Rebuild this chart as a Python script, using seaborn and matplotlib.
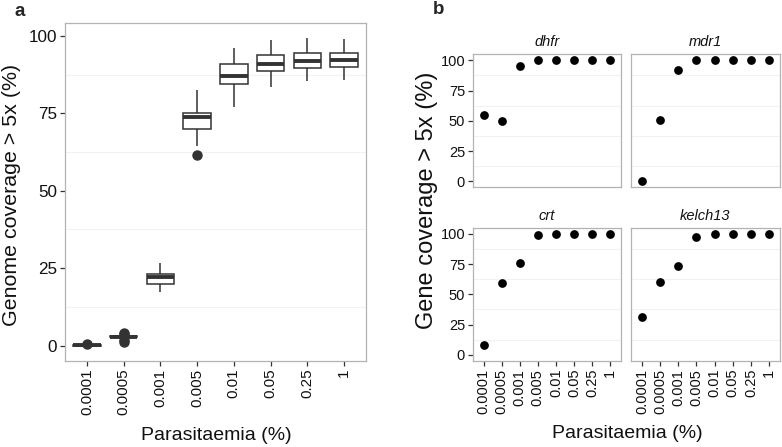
import numpy as np
import pandas as pd
import matplotlib
matplotlib.use("Agg")
from matplotlib import pyplot as plt
from matplotlib.ticker import MultipleLocator
import seaborn as sns

# parasitaemia levels (%)
parasitaemia = ["0.0001", "0.0005", "0.001", "0.005", "0.01", "0.05", "0.25", "1"]

# genome coverage > 5x (%) per replicate, panel a
genome_cov = [
    [0.0, 0.0, 0.0, 0.0, 0.1, 0.1, 0.1, 0.1, 0.4],
    [1.3, 1.7, 2.6, 2.7, 2.8, 2.9, 3.0, 3.8, 4.1],
    [17.2, 18.5, 19.9, 21.5, 22.3, 22.8, 23.1, 25.0, 26.8],
    [61.5, 64.5, 69.9, 72.0, 73.7, 74.4, 75.0, 78.0, 82.4],
    [77.1, 82.0, 84.6, 86.0, 87.1, 89.0, 90.9, 93.0, 96.1],
    [83.5, 86.5, 88.8, 90.0, 91.1, 92.5, 93.8, 96.0, 98.8],
    [85.5, 88.0, 89.8, 91.0, 91.9, 93.2, 94.5, 97.0, 99.2],
    [85.9, 88.5, 90.1, 91.2, 92.2, 93.4, 94.6, 97.0, 99.1],
]

# gene coverage > 5x (%), panel b
genes = ["dhfr", "mdr1", "crt", "kelch13"]
dhfr = [55, 50, 95, 100, 100, 100, 100, 100]
mdr1 = [0, 51, 92, 100, 100, 100, 100, 100]
crt = [8, 59, 76, 99, 100, 100, 100, 100]
kelch13 = [31, 60, 73, 97, 100, 100, 100, 100]
gene_cov = [dhfr, mdr1, crt, kelch13]

sns.set_style("white")
plt.rcParams["font.family"] = ["Liberation Sans", "DejaVu Sans"]

W, H = 782, 447
fig = plt.figure(figsize=(W / 100, H / 100), dpi=100)


def px_axes(x0, y0, x1, y1):
    return fig.add_axes([x0 / W, 1 - y1 / H, (x1 - x0) / W, (y1 - y0) / H])


def style(ax, fs):
    for s in ax.spines.values():
        s.set_color("#b3b3b3")
        s.set_linewidth(0.9)
    ax.yaxis.set_major_locator(MultipleLocator(25))
    ax.yaxis.set_minor_locator(MultipleLocator(12.5))
    ax.grid(False)
    ax.grid(which="minor", axis="y", color="#f2f2f2", lw=0.8)
    ax.set_axisbelow(True)
    ax.tick_params(axis="both", which="major", direction="out", length=3.5,
                   width=0.9, color="#333333", labelsize=fs, labelcolor="#111111",
                   bottom=True, left=True, pad=2)
    ax.tick_params(axis="y", which="minor", length=0)
    ax.tick_params(axis="x", labelrotation=90)
    ax.set_xlim(-0.6, 7.6)
    ax.set_xlabel("")
    ax.set_ylabel("")


# panel a
df_a = pd.DataFrame({
    "parasitaemia": np.repeat(parasitaemia, [len(v) for v in genome_cov]),
    "coverage": np.concatenate(genome_cov),
})
ax_a = px_axes(65, 23, 366, 361)
sns.boxplot(data=df_a, x="parasitaemia", y="coverage", order=parasitaemia, ax=ax_a,
            width=0.75, color="white", linecolor="#333333", linewidth=1.1,
            showcaps=False,
            medianprops=dict(linewidth=2.8, color="#333333"),
            flierprops=dict(marker="o", markersize=6.5, markerfacecolor="#333333",
                            markeredgecolor="#333333"))
style(ax_a, 12.3)
ax_a.tick_params(axis="x", labelsize=11)
ax_a.set_ylim(-5, 104.2)

# panel b
boxes = [(472.7, 54.3, 621, 187.3), (631, 54.3, 780, 187.3),
         (472.7, 227.7, 621, 361), (631, 227.7, 780, 361)]
for i, (gene, vals, b) in enumerate(zip(genes, gene_cov, boxes)):
    ax = px_axes(*b)
    sns.stripplot(x=parasitaemia, y=vals, order=parasitaemia, ax=ax, jitter=False,
                  color="black", size=6.3, linewidth=0)
    style(ax, 10.5)
    ax.set_ylim(-5, 105)
    ax.text(0.5, 1 + 12 / 133, gene, transform=ax.transAxes, ha="center", va="center",
            fontsize=10.5, style="italic", color="#111111")
    if i in (1, 3):
        ax.tick_params(axis="y", labelleft=False, left=False)
    if i in (0, 1):
        ax.tick_params(axis="x", labelbottom=False, bottom=False)

fig.text(12 / W, 1 - 195 / H, "Genome coverage > 5x (%)", rotation=90, ha="center",
         va="center", fontsize=15.4, color="#111111")
fig.text(216 / W, 1 - 435 / H, "Parasitaemia (%)", ha="center", va="center",
         fontsize=14, color="#111111")
fig.text(427 / W, 1 - 200 / H, "Gene coverage > 5x (%)", rotation=90, ha="center",
         va="center", fontsize=17, color="#111111")
fig.text(627 / W, 1 - 433 / H, "Parasitaemia (%)", ha="center", va="center",
         fontsize=14, color="#111111")
fig.text(20 / W, 1 - 11 / H, "a", ha="center", va="center", fontsize=13.5,
         fontweight="bold")
fig.text(439 / W, 1 - 10 / H, "b", ha="center", va="center", fontsize=13.5,
         fontweight="bold")

fig.savefig("out.png", dpi=100)
